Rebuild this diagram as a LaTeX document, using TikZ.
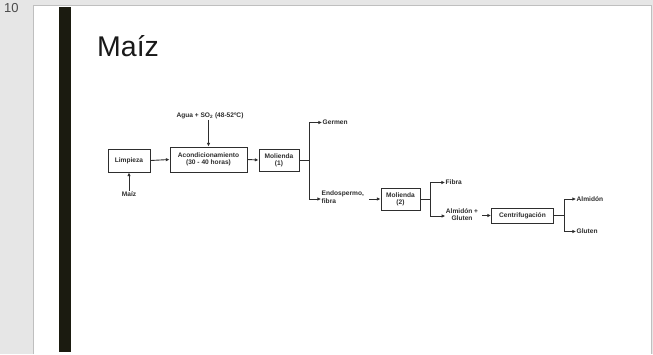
\documentclass[tikz,border=0pt]{standalone}
\usepackage{fontspec}
\setmainfont{Liberation Sans}
\usetikzlibrary{arrows.meta}
\definecolor{pgbg}{HTML}{E6E6E6}
\definecolor{barc}{HTML}{1B1B10}
\definecolor{ln}{HTML}{2E2E2E}
\tikzset{
  box/.style={draw=ln,line width=1pt,fill=white,inner sep=1pt,align=center,font=\fontsize{6.6}{7.4}\selectfont\bfseries,text=ln},
  lbl/.style={inner sep=0.5pt,align=left,font=\fontsize{6.6}{7.4}\selectfont\bfseries,text=ln},
  conn/.style={draw=ln,line width=0.9pt},
  arr/.style={conn,-{Latex[length=3.6pt,width=3.4pt]}}
}
\begin{document}
\begin{tikzpicture}[x=1pt,y=-1pt]
\useasboundingbox (0,0) rectangle (653,354);
\fill[pgbg] (0,0) rectangle (653,354);
\fill[white] (33,5) rectangle (651,354);
\draw[color=gray!50,line width=0.8pt] (33,354) -- (33,5) -- (651,5) -- (651,354);
\fill[barc] (59,7) rectangle (71,352);
\node[anchor=north west,inner sep=0pt,text=black!70,font=\fontsize{13}{14}\selectfont] (num) at (4,3) {10};
\node[anchor=base west,inner sep=0pt,text=black!90,font=\fontsize{28.5}{30}\selectfont] (title) at (97,56) {Maíz};

% boxes
\node[box,minimum width=42pt,minimum height=23pt] (lim) at (129,160.5) {Limpieza};
\node[box,minimum width=77pt,minimum height=25pt] (acon) at (208.5,159.5) {Acondicionamiento\\(30 - 40 horas)};
\node[box,minimum width=40pt,minimum height=22pt] (mol1) at (279,160) {Molienda\\(1)};
\node[box,minimum width=39pt,minimum height=22pt] (mol2) at (400.5,199) {Molienda\\(2)};
\node[box,minimum width=62pt,minimum height=15pt] (cen) at (522.5,215.5) {Centrifugación};

% labels
\node[lbl] (agua) at (210,116) {Agua + SO\textsubscript{2} (48-52ºC)};
\node[lbl] (maiz) at (129,194) {Maíz};
\node[lbl,anchor=west] (germ) at (322,122.5) {Germen};
\node[lbl,anchor=west] (endo) at (321,197) {Endospermo,\\fibra};
\node[lbl,anchor=west] (fib) at (445,182.5) {Fibra};
\node[lbl,align=center] (almg) at (462,214.5) {Almidón +\\Gluten};
\node[lbl,anchor=west] (alm) at (576,199) {Almidón};
\node[lbl,anchor=west] (glu) at (576,231.5) {Gluten};

% coordinates
\coordinate (b1) at (309,160);
\coordinate (b1t) at (309,122.5);
\coordinate (b1b) at (309,199);
\coordinate (b2) at (430,199);
\coordinate (b2t) at (430,182.5);
\coordinate (b2b) at (430,216);
\coordinate (b3) at (564,215.5);
\coordinate (b3t) at (564,199);
\coordinate (b3b) at (564,231.5);
\coordinate (endoE) at (369,199);
\coordinate (almgE) at (482,215.5);

% connectors
\draw[arr] (agua.south -| acon.north) -- (acon.north);
\draw[arr] (maiz.north) -- (lim.south);
\draw[arr] (lim.east) -- (acon.west);
\draw[arr] (acon.east) -- (mol1.west);
\draw[conn] (mol1.east) -- (b1);
\draw[conn] (b1t) -- (b1b);
\draw[arr] (b1t) -- (germ.west);
\draw[arr] (b1b) -- (b1b -| endo.west);
\draw[arr] (endoE) -- (mol2.west);
\draw[conn] (mol2.east) -- (b2);
\draw[conn] (b2t) -- (b2b);
\draw[arr] (b2t) -- (fib.west);
\draw[arr] (b2b) -- (b2b -| almg.west);
\draw[arr] (almgE) -- (cen.west);
\draw[conn] (cen.east) -- (b3);
\draw[conn] (b3t) -- (b3b);
\draw[arr] (b3t) -- (alm.west);
\draw[arr] (b3b) -- (glu.west);
\end{tikzpicture}
\end{document}
